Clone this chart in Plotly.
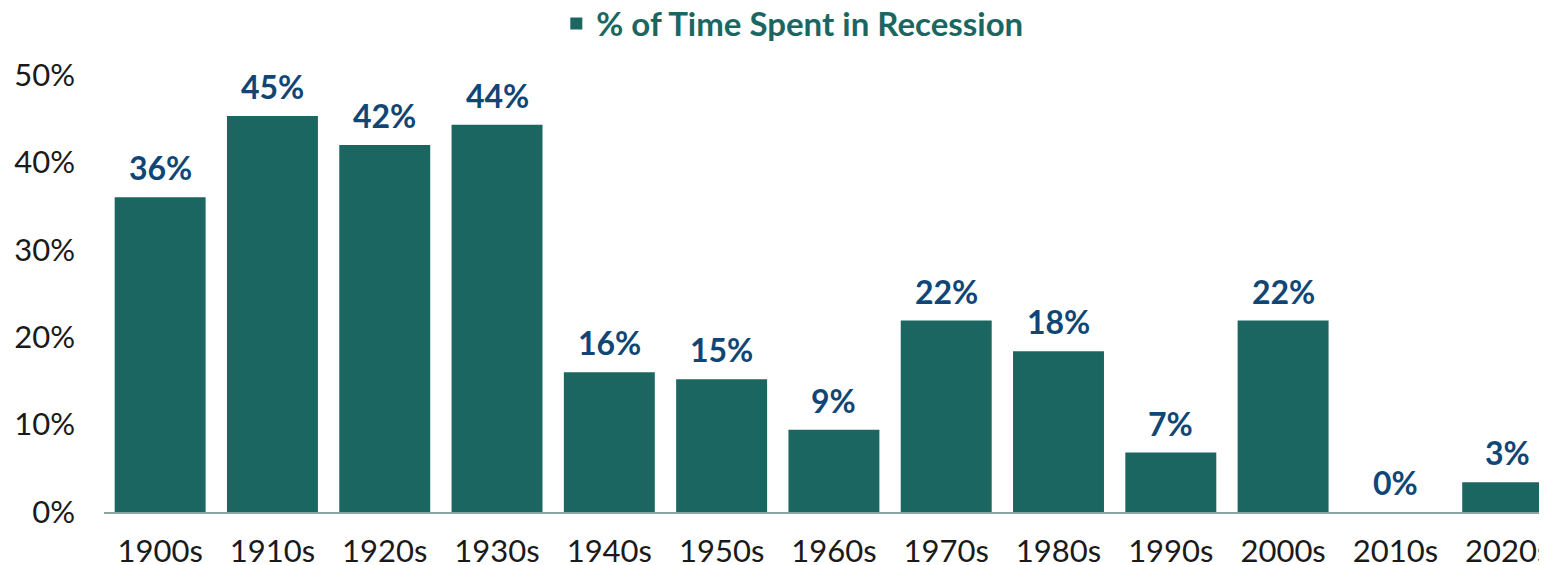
import plotly.graph_objects as go

decades = ["1900s", "1910s", "1920s", "1930s", "1940s", "1950s", "1960s",
           "1970s", "1980s", "1990s", "2000s", "2010s", "2020s"]
pct_recession = [36.0, 45.3, 42.0, 44.3, 16.0, 15.2, 9.4, 21.9, 18.4, 6.8, 21.9, 0.0, 3.4]
y_ticks = [0, 10, 20, 30, 40, 50]
y_tick_labels = ["0%", "10%", "20%", "30%", "40%", "50%"]

BAR = "#1c6661"
NAVY = "#0f4676"

fig = go.Figure()
fig.add_trace(go.Bar(
    x=decades, y=pct_recession,
    name="% of Time Spent in Recession",
    marker=dict(color=BAR, line=dict(width=0)),
    cliponaxis=True,
))

for d, v in zip(decades, pct_recession):
    fig.add_annotation(x=d, y=v, text=f"{v:.0f}%", showarrow=False,
                       yanchor="bottom", yshift=8,
                       font=dict(family="Lato", size=32, color=NAVY, weight="bold"))

# page body has an 8px margin, so the figure is sized to fit the 1547x565 window
fig.update_layout(
    width=1539, height=557,
    margin=dict(l=96, r=0, t=67, b=53, autoexpand=False),
    paper_bgcolor="white", plot_bgcolor="white",
    bargap=0.19,
    showlegend=True,
    legend=dict(orientation="h", x=0.477, xanchor="center",
                yref="container", y=0.972, yanchor="middle",
                font=dict(family="Lato", size=33, color=BAR, weight="bold"),
                itemwidth=30),
    xaxis=dict(range=[-0.5, 12.35], showgrid=False, showline=True,
               linecolor="#8aa3a0", linewidth=1.5, ticks="", automargin=False,
               tickfont=dict(family="Lato", size=31, color="#1a1a1a"),
               ticklabelstandoff=11),
    yaxis=dict(range=[0, 50], tickvals=y_ticks, ticktext=y_tick_labels,
               showgrid=False, zeroline=False, showline=False, ticks="",
               automargin=False,
               tickfont=dict(family="Lato", size=31, color="#1a1a1a"),
               ticklabelstandoff=28),
)

fig.write_html("out.html")
